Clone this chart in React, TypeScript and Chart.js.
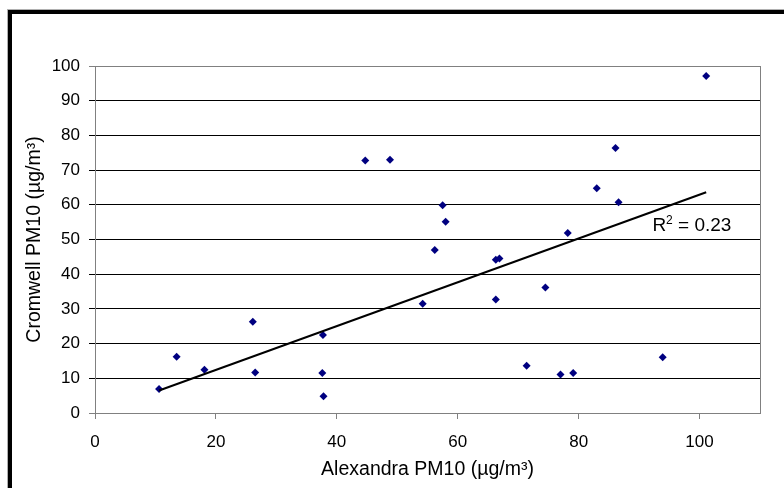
import React, { useEffect, useRef } from "react";
import { Chart, registerables } from "chart.js";

Chart.register(...registerables);

// Alexandra PM10 (x) vs Cromwell PM10 (y), µg/m³
const alexandra = [10.6, 13.5, 18.1, 26.1, 26.5, 37.7, 37.6, 37.8, 44.7, 48.8, 54.2, 56.2, 57.5, 58.0, 66.3, 66.9, 66.3, 71.4, 74.5, 77.0, 79.1, 78.2, 83.0, 86.1, 86.6, 93.9, 101.1];
const cromwell = [6.9, 16.2, 12.5, 26.3, 11.7, 22.5, 11.5, 4.8, 72.8, 73.0, 31.5, 47.0, 59.9, 55.1, 44.2, 44.5, 32.7, 13.6, 36.2, 11.1, 11.5, 51.9, 64.8, 76.4, 60.7, 16.1, 97.1];

// Linear trendline endpoints
const trendX = [10.6, 101.1];
const trendY = [6.5, 63.6];

const xTicks = [0, 20, 40, 60, 80, 100];
const yTicks = [0, 10, 20, 30, 40, 50, 60, 70, 80, 90, 100];

const r2Base = "R";
const r2Sup = "2";
const r2Rest = " = 0.23";
const r2Anchor = [92.2, 52.4];

const xTitle = "Alexandra PM10 (\u00B5g/m\u00B3)";
const yTitle = "Cromwell PM10 (\u00B5g/m\u00B3)";

const FONT = "'Liberation Sans', Arial, sans-serif";

export default function App() {
  const ref = useRef<HTMLCanvasElement | null>(null);

  useEffect(() => {
    if (!ref.current) return;
    const frame = {
      id: "frameAndLabel",
      beforeDatasetsDraw(chart: any) {
        const { ctx, chartArea } = chart;
        ctx.save();
        ctx.strokeStyle = "#808080";
        ctx.lineWidth = 1;
        ctx.strokeRect(
          Math.round(chartArea.left) + 0.5,
          Math.round(chartArea.top) + 0.5,
          Math.round(chartArea.right - chartArea.left),
          Math.round(chartArea.bottom - chartArea.top)
        );
        ctx.restore();
      },
      afterDatasetsDraw(chart: any) {
        const { ctx, scales } = chart;
        const x0 = scales.x.getPixelForValue(r2Anchor[0]);
        const y0 = scales.y.getPixelForValue(r2Anchor[1]);
        ctx.save();
        ctx.fillStyle = "#000";
        ctx.textAlign = "left";
        ctx.textBaseline = "alphabetic";
        ctx.font = `19px ${FONT}`;
        ctx.fillText(r2Base, x0, y0);
        let x = x0 + ctx.measureText(r2Base).width;
        ctx.font = `12px ${FONT}`;
        ctx.fillText(r2Sup, x, y0 - 7.5);
        x += ctx.measureText(r2Sup).width;
        ctx.font = `19px ${FONT}`;
        ctx.fillText(r2Rest, x, y0);
        ctx.restore();
      },
    };

    const chart = new Chart(ref.current, {
      type: "scatter",
      data: {
        datasets: [
          {
            label: "Trend",
            data: trendX.map((x, i) => ({ x, y: trendY[i] })),
            showLine: true,
            borderColor: "#000000",
            borderWidth: 2,
            pointRadius: 0,
            fill: false,
          },
          {
            label: "PM10",
            data: alexandra.map((x, i) => ({ x, y: cromwell[i] })),
            pointStyle: "rectRot",
            pointRadius: 4,
            backgroundColor: "#000080",
            borderColor: "#000080",
            borderWidth: 0,
          },
        ],
      },
      options: {
        responsive: false,
        animation: false,
        layout: { padding: { top: 66, right: 24, left: 0, bottom: 0 } },
        plugins: { legend: { display: false }, tooltip: { enabled: false } },
        scales: {
          x: {
            type: "linear",
            min: 0,
            max: 110,
            afterBuildTicks: (s: any) => {
              s.ticks = xTicks.map((v) => ({ value: v }));
            },
            afterFit: (s: any) => {
              s.height = 75;
            },
            grid: { drawOnChartArea: false, drawTicks: true, tickLength: 6, color: "#808080" },
            border: { display: true, color: "#808080" },
            ticks: { color: "#000", font: { family: FONT, size: 17 }, padding: 13, maxRotation: 0 },
            title: { display: true, text: xTitle, color: "#000", font: { family: FONT, size: 19.5 }, padding: { top: 0, bottom: 7 } },
          },
          y: {
            type: "linear",
            min: 0,
            max: 100,
            afterBuildTicks: (s: any) => {
              s.ticks = yTicks.map((v) => ({ value: v }));
            },
            afterFit: (s: any) => {
              s.width = 95;
            },
            grid: {
              tickLength: 6,
              color: (c: any) => (c.tick && (c.tick.value === 0 || c.tick.value === 100) ? "#808080" : "#000000"),
            },
            border: { display: true, color: "#808080" },
            ticks: { color: "#000", font: { family: FONT, size: 17 }, padding: 9 },
            title: { display: true, text: yTitle, color: "#000", font: { family: FONT, size: 19.5 }, padding: { top: 23, bottom: 0 } },
          },
        },
      },
      plugins: [frame],
    });
    return () => chart.destroy();
  }, []);

  return (
    <div style={{ position: "fixed", left: 0, top: 0, width: 784, height: 488, overflow: "hidden", background: "#fff" }}>
      <div
        style={{
          position: "absolute",
          left: 8,
          top: 10,
          width: 2000,
          height: 2000,
          borderLeft: "4px solid #000",
          borderTop: "4px solid #000",
          boxShadow: "-1px -1px 0 #b0b0b0",
        }}
      />
      <canvas ref={ref} width={784} height={488} style={{ position: "absolute", left: 0, top: 0, display: "block" }} />
    </div>
  );
}
